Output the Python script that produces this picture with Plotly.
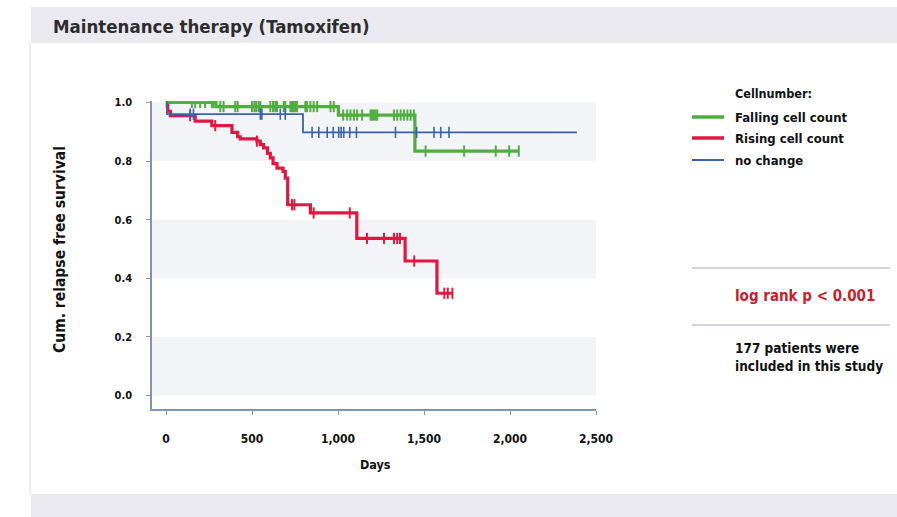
import plotly.graph_objects as go

# ---------------- data ----------------
falling_t = [0, 290, 1002, 1447, 2051]
falling_s = [1.0, 0.986, 0.957, 0.834, 0.834]
falling_cens = [3, 150, 169, 198, 227, 266, 275, 315, 334, 402, 416, 499, 513, 524, 538, 548,
                606, 622, 635, 645, 684, 693, 723, 732, 742, 751, 761, 810, 819, 839, 858, 878,
                956, 975, 1030, 1053, 1072, 1092, 1111, 1140, 1189, 1198, 1208, 1218, 1228,
                1325, 1344, 1364, 1383, 1403, 1422, 1441, 1509, 1733, 1917, 1995, 2051]

rising_t = [0, 10, 25, 169, 266, 383, 416, 431, 528, 548, 567, 590, 606, 622, 645, 680, 693,
            707, 839, 1109, 1390, 1575, 1665]
rising_s = [0.99, 0.97, 0.955, 0.936, 0.921, 0.898, 0.883, 0.876, 0.868, 0.856, 0.845, 0.826,
            0.811, 0.791, 0.776, 0.765, 0.742, 0.651, 0.623, 0.536, 0.459, 0.349, 0.349]
rising_cens = [140, 286, 528, 732, 746, 858, 1068, 1168, 1267, 1325, 1344, 1360, 1443,
               1618, 1638, 1665]

nochange_t = [0, 5, 796, 2389]
nochange_s = [1.0, 0.96, 0.898, 0.898]
nochange_cens = [140, 159, 548, 557, 664, 693, 849, 888, 937, 972, 1004, 1018, 1033, 1068,
                 1107, 1334, 1457, 1558, 1597, 1645]

series_names = ["Falling cell count", "Rising cell count", "no change"]
x_tickvals = [0, 500, 1000, 1500, 2000, 2500]
x_ticktext = ["0", "500", "1,000", "1,500", "2,000", "2,500"]
y_tickvals = [0.0, 0.2, 0.4, 0.6, 0.8, 1.0]
y_ticktext = ["0.0", "0.2", "0.4", "0.6", "0.8", "1.0"]

title_text = "Maintenance therapy (Tamoxifen)"
legend_title = "Cellnumber:"
pvalue_text = "log rank p < 0.001"
note_text = "177 patients were<br>included in this study"

# ---------------- style ----------------
W, H = 897, 517
L, R, T, B = 152, 596, 101, 409
GREEN, RED, BLUE = "#4fae3f", "#e0173f", "#3b63ac"
AXIS = "#8194b7"
NARROW = "DejaVu Sans Condensed, Liberation Sans Narrow, sans-serif"


def px2x(px):
    return (px - L) / (R - L)


def py2y(py):
    return (B - py) / (B - T)


def step_value(times, surv, t):
    v = surv[0]
    for ti, si in zip(times, surv):
        if ti <= t:
            v = si
    return v


fig = go.Figure()

specs = [
    (falling_t, falling_s, falling_cens, GREEN, 3.2, series_names[0]),
    (rising_t, rising_s, rising_cens, RED, 3.2, series_names[1]),
    (nochange_t, nochange_s, nochange_cens, BLUE, 1.8, series_names[2]),
]
for times, surv, cens, col, w, name in specs:
    fig.add_trace(go.Scatter(x=times, y=surv, mode="lines", line=dict(color=col, width=w, shape="hv"),
                             name=name, showlegend=False, hoverinfo="skip"))
    fig.add_trace(go.Scatter(x=cens, y=[step_value(times, surv, c) for c in cens], mode="markers",
                             marker=dict(symbol="line-ns", size=8, line=dict(color=col, width=1.6 if w < 2 else 2)),
                             showlegend=False, hoverinfo="skip"))

shapes = []
# page chrome
shapes.append(dict(type="rect", xref="paper", yref="paper", x0=px2x(31), x1=px2x(897), y0=py2y(7), y1=py2y(43),
                   fillcolor="#e9e9ef", line=dict(width=0), layer="below"))
shapes.append(dict(type="rect", xref="paper", yref="paper", x0=px2x(31), x1=px2x(897), y0=py2y(494), y1=py2y(517),
                   fillcolor="#e9e9ef", line=dict(width=0), layer="below"))
shapes.append(dict(type="line", xref="paper", yref="paper", x0=px2x(30), x1=px2x(30), y0=py2y(43), y1=py2y(494),
                   line=dict(color="#eeeef2", width=2), layer="below"))
# plot bands
for lo in [0.0, 0.4, 0.8]:
    shapes.append(dict(type="rect", xref="paper", yref="y", x0=0, x1=1, y0=lo, y1=lo + 0.2,
                       fillcolor="#f3f4f8", line=dict(width=0), layer="below"))
# separators in the side panel
for py in [268, 325]:
    shapes.append(dict(type="line", xref="paper", yref="paper", x0=px2x(692), x1=px2x(890), y0=py2y(py), y1=py2y(py),
                       line=dict(color="#c3c4cf", width=1.5)))
# legend line samples
legend_rows = [(117, GREEN, 3.5), (138, RED, 3.5), (160, BLUE, 2)]
for py, col, w in legend_rows:
    shapes.append(dict(type="line", xref="paper", yref="paper", x0=px2x(692), x1=px2x(724), y0=py2y(py), y1=py2y(py),
                       line=dict(color=col, width=w)))

ann = []
ann.append(dict(text=title_text, x=px2x(51), y=py2y(26), xref="paper", yref="paper", xanchor="left", yanchor="middle",
                showarrow=False, font=dict(family=NARROW, size=18.5, color="#2d2d2d", weight="bold")))
ann.append(dict(text=legend_title, x=px2x(733), y=py2y(93), xref="paper", yref="paper", xanchor="left", yanchor="middle",
                showarrow=False, font=dict(family=NARROW, size=12.5, color="#111", weight="bold")))
for (py, col, w), name in zip(legend_rows, series_names):
    ann.append(dict(text=name, x=px2x(733), y=py2y(py), xref="paper", yref="paper", xanchor="left", yanchor="middle",
                    showarrow=False, font=dict(family=NARROW, size=13, color="#111", weight="bold")))
ann.append(dict(text=pvalue_text, x=px2x(733), y=py2y(296), xref="paper", yref="paper", xanchor="left", yanchor="middle",
                showarrow=False, font=dict(family=NARROW, size=15, color="#c81e2e", weight="bold")))
ann.append(dict(text=note_text, x=px2x(733), y=py2y(357), xref="paper", yref="paper", xanchor="left", yanchor="middle",
                align="left", showarrow=False, font=dict(family=NARROW, size=13.5, color="#111", weight="bold")))
ann.append(dict(text="Days", x=px2x(375), y=py2y(464), xref="paper", yref="paper", xanchor="center", yanchor="middle",
                showarrow=False, font=dict(family=NARROW, size=12.5, color="#111", weight="bold")))
ann.append(dict(text="Cum. relapse free survival", x=px2x(60), y=py2y(250), xref="paper", yref="paper",
                xanchor="center", yanchor="middle", textangle=-90,
                showarrow=False, font=dict(family=NARROW, size=15.5, color="#111", weight="bold")))

fig.update_layout(
    width=W, height=H, autosize=False,
    margin=dict(l=L, r=W - R, t=T, b=H - B),
    paper_bgcolor="white", plot_bgcolor="white",
    shapes=shapes, annotations=ann, showlegend=False,
    xaxis=dict(range=[-82, 2500], tickvals=x_tickvals, ticktext=x_ticktext, showgrid=False, zeroline=False,
               showline=True, linecolor=AXIS, linewidth=1.5, ticks="outside", ticklen=4, tickcolor=AXIS,
               ticklabelstandoff=14,
               tickfont=dict(family=NARROW, size=12, color="#111", weight="bold")),
    yaxis=dict(range=[-0.046, 1.005], tickvals=y_tickvals, ticktext=y_ticktext, showgrid=False, zeroline=False,
               showline=True, linecolor=AXIS, linewidth=1.5, ticks="outside", ticklen=4, tickcolor=AXIS,
               ticklabelstandoff=12,
               tickfont=dict(family=NARROW, size=11, color="#111", weight="bold")),
)

fig.write_html("out.html")
